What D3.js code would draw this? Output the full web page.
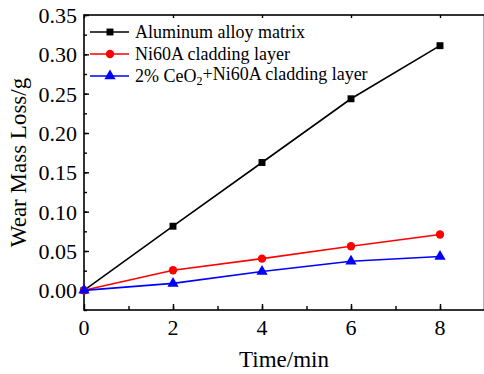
<!DOCTYPE html>
<html>
<head>
<meta charset="utf-8">
<script src="https://cdn.jsdelivr.net/npm/d3@7"></script>
<style>
  body { margin: 0; background: #fff; }
  text { font-family: "Liberation Serif", "Times New Roman", serif; fill: #000; }
</style>
</head>
<body>
<svg width="484" height="374"></svg>
<script>
var times = [0, 2, 4, 6, 8];
var aluminum = [0, 0.0815, 0.1625, 0.2435, 0.311];
var ni60a = [0, 0.0255, 0.0403, 0.056, 0.071];
var ceo2 = [0, 0.0088, 0.024, 0.037, 0.043];
var xTicks = [0, 2, 4, 6, 8];
var yTicks = [0, 0.05, 0.10, 0.15, 0.20, 0.25, 0.30, 0.35];

var series = [
    { name: "Aluminum alloy matrix", values: aluminum, color: "#000", symbol: d3.symbolSquare, size: 48 },
    { name: "Ni60A cladding layer", values: ni60a, color: "#ff0000", symbol: d3.symbolCircle, size: 55 },
    { name: "2% CeO2+Ni60A cladding layer", values: ceo2, color: "#0000ff", symbol: d3.symbolTriangle, size: 55 }
];

var svg = d3.select("svg");
var plotL = 84, plotR = 484.5, plotT = 15, plotB = 310;

var x = d3.scaleLinear().domain([0, 9]).range([plotL, plotR]);
var y = d3.scaleLinear().domain([-0.025, 0.35]).range([plotB, plotT]);

// frame (right edge falls at the window border)
svg.append("rect")
    .attr("x", plotL).attr("y", plotT)
    .attr("width", plotR - plotL).attr("height", plotB - plotT)
    .attr("fill", "none").attr("stroke", "#000").attr("stroke-width", 1.6);

// ticks, all pointing inward
var yMinor = d3.range(-0.025, 0.351, 0.025);
var xMinor = d3.range(1, 9, 1);

svg.append("g").attr("transform", "translate(" + plotL + ",0)")
    .call(d3.axisRight(y).tickValues(yMinor).tickSize(3).tickFormat(""))
    .call(g => g.select(".domain").remove());
svg.append("g").attr("transform", "translate(" + plotL + ",0)")
    .call(d3.axisRight(y).tickValues(yTicks).tickSize(5).tickFormat(""))
    .call(g => g.select(".domain").remove());
svg.append("g").attr("transform", "translate(0," + plotB + ")")
    .call(d3.axisTop(x).tickValues(xMinor).tickSize(4).tickFormat(""))
    .call(g => g.select(".domain").remove());
svg.append("g").attr("transform", "translate(0," + plotB + ")")
    .call(d3.axisTop(x).tickValues(xTicks).tickSize(6).tickFormat(""))
    .call(g => g.select(".domain").remove());
svg.append("g").attr("transform", "translate(0," + plotT + ")")
    .call(d3.axisBottom(x).tickValues(xTicks).tickSize(3).tickFormat(""))
    .call(g => g.select(".domain").remove());
svg.selectAll(".tick line").attr("stroke-width", 1.4);

// tick labels
svg.append("g").selectAll("text")
    .data(yTicks).enter().append("text")
    .attr("x", 77).attr("y", d => y(d))
    .attr("dy", "0.36em")
    .attr("text-anchor", "end")
    .attr("font-size", 22)
    .text(d => d.toFixed(2));

svg.append("g").selectAll("text")
    .data(xTicks).enter().append("text")
    .attr("x", d => x(d)).attr("y", 335)
    .attr("text-anchor", "middle")
    .attr("font-size", 22)
    .text(d => d);

// axis titles
svg.append("text")
    .attr("x", 284).attr("y", 367)
    .attr("text-anchor", "middle")
    .attr("font-size", 23)
    .text("Time/min");

svg.append("text")
    .attr("transform", "translate(26," + ((plotT + plotB) / 2) + ") rotate(-90)")
    .attr("text-anchor", "middle")
    .attr("font-size", 23)
    .text("Wear Mass Loss/g");

// lines and markers
var line = d3.line().x((d, i) => x(times[i])).y(d => y(d));

series.forEach(function (s) {
    var g = svg.append("g");
    g.append("path")
        .attr("d", line(s.values))
        .attr("fill", "none")
        .attr("stroke", s.color)
        .attr("stroke-width", 1.6);
    g.selectAll("path.pt")
        .data(s.values).enter().append("path")
        .attr("class", "pt")
        .attr("transform", (d, i) => "translate(" + x(times[i]) + "," + y(d) + ")")
        .attr("d", d3.symbol().type(s.symbol).size(s.size))
        .attr("fill", s.color);
});

// legend
var legend = svg.append("g");
series.forEach(function (s, i) {
    var ly = 32 + i * 22;
    legend.append("line")
        .attr("x1", 90).attr("x2", 129)
        .attr("y1", ly).attr("y2", ly)
        .attr("stroke", s.color).attr("stroke-width", 1.6);
    legend.append("path")
        .attr("transform", "translate(110," + ly + ")")
        .attr("d", d3.symbol().type(s.symbol).size(s.size))
        .attr("fill", s.color);
    var t = legend.append("text")
        .attr("x", 135).attr("y", ly)
        .attr("dy", "0.33em")
        .attr("font-size", 18);
    if (i === 2) {
        t.append("tspan").text("2% CeO");
        t.append("tspan").attr("font-size", 12).attr("dy", "0.25em").text("2");
        t.append("tspan").attr("dy", "-0.25em").text("+Ni60A cladding layer");
    } else {
        t.text(s.name);
    }
});
</script>
</body>
</html>
